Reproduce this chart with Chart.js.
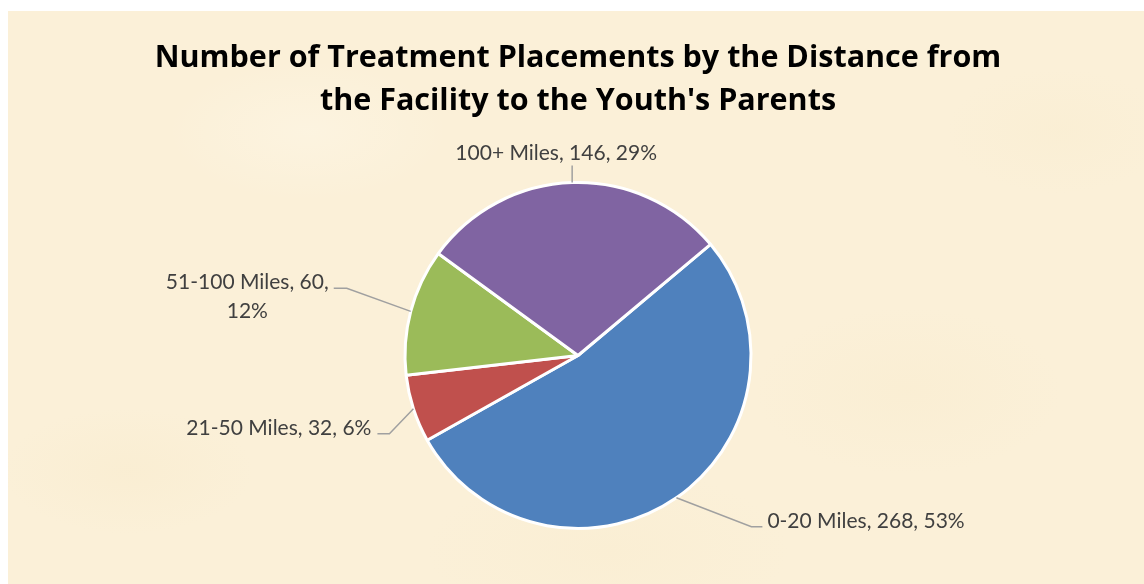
<!DOCTYPE html>
<html>
<head>
<meta charset="utf-8">
<script src="https://cdn.jsdelivr.net/npm/chart.js@4.4.1/dist/chart.umd.min.js"></script>
<style>
  html, body { margin: 0; padding: 0; background: #fff; }
  #paper {
    position: absolute; left: 8px; top: 11px; width: 1136px; height: 573px;
    background-color: #fbf0d8;
    background-image:
      radial-gradient(ellipse 180px 90px at 120px 460px, rgba(242,224,180,0.15), rgba(242,224,180,0) 70%),
      radial-gradient(ellipse 220px 120px at 900px 380px, rgba(242,224,180,0.12), rgba(242,224,180,0) 70%),
      radial-gradient(ellipse 200px 100px at 300px 120px, rgba(255,250,238,0.35), rgba(255,250,238,0) 70%),
      radial-gradient(ellipse 160px 90px at 1050px 120px, rgba(244,228,186,0.12), rgba(244,228,186,0) 70%),
      radial-gradient(ellipse 260px 120px at 600px 540px, rgba(243,226,182,0.12), rgba(243,226,182,0) 70%);
  }
  #chart { position: absolute; left: 0; top: 0; }
</style>
</head>
<body>
<div id="paper"></div>
<canvas id="chart" width="1144" height="584"></canvas>
<script>
var categories = ["0-20 Miles", "21-50 Miles", "51-100 Miles", "100+ Miles"];
var placements = [268, 32, 60, 146];
var percents = ["53%", "6%", "12%", "29%"];
var sliceColors = ["#4f81bd", "#c0504d", "#9bbb59", "#8064a2"];

// where each label sits, relative to the slice's outer edge point
var labelLayout = [
    { elbow: [75, 29], tail: 11, align: 'left', text: [5, 1], wrap: false },
    { elbow: [-24, 25], tail: -12, align: 'right', text: [-6, 1], wrap: false },
    { elbow: [-64, -23], tail: -13, align: 'right', text: [-5, 1], wrap: true },
    { elbow: [0, -17], tail: 0, align: 'center', text: [-16, -6], wrap: false }
];

var labelFont = '21px Lato';

var pieLabels = {
    id: 'pieLabels',
    afterDatasetsDraw: function(chart) {
        var ctx = chart.ctx;
        var arcs = chart.getDatasetMeta(0).data;
        ctx.save();
        ctx.font = labelFont;
        arcs.forEach(function(arc, i) {
            var p = arc.getProps(['x', 'y', 'startAngle', 'endAngle', 'outerRadius']);
            var mid = (p.startAngle + p.endAngle) / 2;
            var ex = p.x + Math.cos(mid) * p.outerRadius;
            var ey = p.y + Math.sin(mid) * p.outerRadius;
            var cfg = labelLayout[i];
            var bx = ex + cfg.elbow[0], by = ey + cfg.elbow[1];
            var tx = bx + cfg.tail;

            ctx.strokeStyle = '#a0a0a0';
            ctx.lineWidth = 1.5;
            ctx.beginPath();
            ctx.moveTo(ex, ey);
            ctx.lineTo(bx, by);
            ctx.lineTo(tx, by);
            ctx.stroke();

            var head = categories[i] + ', ' + placements[i] + ',';
            var lines = cfg.wrap ? [head, percents[i]] : [head + ' ' + percents[i]];

            ctx.fillStyle = '#404040';
            ctx.textBaseline = 'alphabetic';
            var widths = lines.map(function(l) { return ctx.measureText(l).width; });
            var blockW = Math.max.apply(null, widths);
            var ax = tx + cfg.text[0], ay = by + cfg.text[1];
            var centerX;
            if (cfg.align == 'left') centerX = ax + blockW / 2;
            else if (cfg.align == 'right') centerX = ax - blockW / 2;
            else centerX = ax;
            ctx.textAlign = 'center';
            lines.forEach(function(l, k) {
                ctx.fillText(l, centerX, ay + k * 29);
            });
        });
        ctx.restore();
    }
};

new Chart(document.getElementById('chart'), {
    type: 'pie',
    data: {
        labels: categories,
        datasets: [{
            data: placements,
            backgroundColor: sliceColors,
            borderColor: '#ffffff',
            borderWidth: 3
        }]
    },
    options: {
        responsive: false,
        animation: false,
        rotation: 50,
        layout: { padding: { left: 12, right: 0, top: 0, bottom: 54 } },
        plugins: {
            legend: { display: false },
            tooltip: { enabled: false },
            title: {
                display: true,
                text: ["Number of Treatment Placements by the Distance from", "the Facility to the Youth's Parents"],
                color: '#000000',
                font: { family: 'Open Sans', size: 30.5, weight: 'bold', lineHeight: 1.41 },
                padding: { top: 36.5, bottom: 58.5 }
            }
        }
    },
    plugins: [pieLabels]
});
</script>
</body>
</html>
